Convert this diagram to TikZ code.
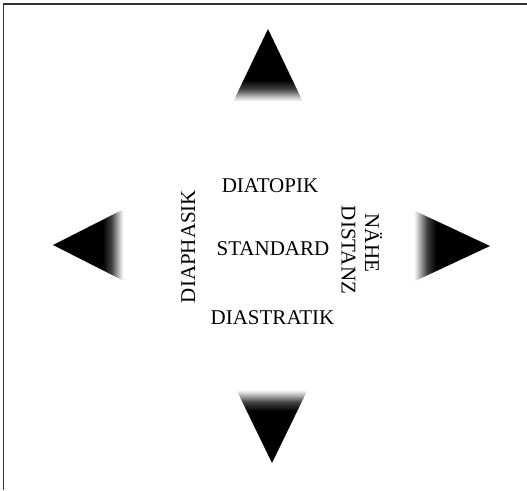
\documentclass[tikz,border=0pt]{standalone}
\usepackage{fontspec}
\setmainfont{Liberation Serif}
\pgfdeclareverticalshading{trifade}{100bp}{color(0bp)=(white); color(25.5bp)=(white); color(28bp)=(black!20); color(34bp)=(black!75); color(40bp)=(black); color(100bp)=(black)}
\tikzset{
  lbl/.style={font=\fontsize{21}{24}\selectfont, inner sep=0pt, anchor=base},
  tri/.style={shading=trifade},
  frameline/.style={line width=1.1pt, black!80}
}
\begin{document}
\begin{tikzpicture}[x=1pt,y=1pt]
\useasboundingbox (0,0) rectangle (527,490);
\draw[frameline] (3.5,0) -- (3.5,486) -- (527,486);
% triangles
\shade[tri, shading angle=0] (268,461) -- (233,388) -- (303,388) -- cycle;
\shade[tri, shading angle=180] (272,27) -- (236,101) -- (308,101) -- cycle;
\shade[tri, shading angle=90] (53,245) -- (124,281) -- (124,209) -- cycle;
\shade[tri, shading angle=270] (490,244) -- (413,280) -- (413,208) -- cycle;
% labels
\node[lbl] (topik) at (270,297.5) {DIATOPIK};
\node[lbl] (std) at (273,234) {STANDARD};
\node[lbl] (strat) at (272.5,165) {DIASTRATIK};
\node[lbl, rotate=90] (phas) at (195,243.5) {DIAPHASIK};
\node[lbl, rotate=-90] (dist) at (341.7,240) {DISTANZ};
\node[lbl, rotate=-90] (nahe) at (365,247) {NÄHE};
\end{tikzpicture}
\end{document}
